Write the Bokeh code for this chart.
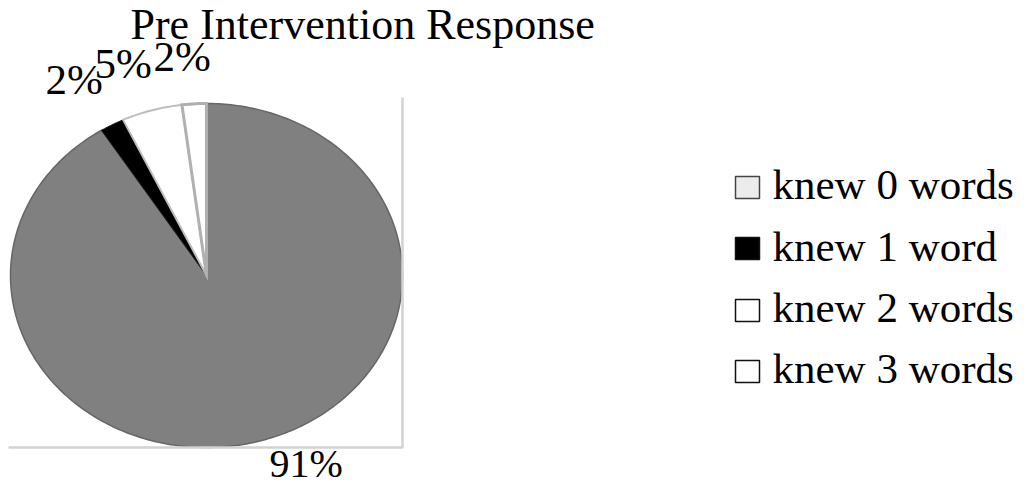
import numpy as np
from bokeh.plotting import figure
from bokeh.models import Range1d, ColumnDataSource
from bokeh.core.properties import value
from bokeh.embed import file_html
from bokeh.resources import INLINE

# ---- data ----
title_text = "Pre Intervention Response"
categories = ["knew 0 words", "knew 1 word", "knew 2 words", "knew 3 words"]
percentages = [91, 2, 5, 2]

# ---- styles / layout ----
slice_fill = ["#808080", "#000000", "#ffffff", "#ffffff"]
slice_line = ["#666666", "#1a1a1a", "#bdbdbd", "#b0b0b0"]
slice_lw = [1.5, 1.0, 2.0, 3.0]
swatch_fill = ["#ececec", "#000000", "#ffffff", "#ffffff"]
swatch_line = ["#444444", "#111111", "#111111", "#111111"]

DY = -14  # rendered text sits lower than its anchor; compensate
# label anchors (left, baseline) in picture pixels
label_pos = [(269, 477), (45, 93), (94, 77), (153, 70)]
label_size = ["40px", "43px", "43px", "43px"]
legend_rows = [187, 248, 310, 371]
legend_base = [198, 260, 321, 382]

FONT = "Liberation Serif"

W, H = 1016, 488
p = figure(width=W, height=H, x_range=Range1d(0, W), y_range=Range1d(H, 0),
           output_backend="svg", toolbar_location=None, min_border=0,
           x_axis_type=None, y_axis_type=None)
p.grid.visible = False
p.outline_line_color = None
p.background_fill_color = "white"
p.border_fill_color = "white"

# ---- pie (slightly elliptical, clockwise from 12 o'clock) ----
cx, cy, rx, ry = 206, 275, 196, 172
total = float(sum(percentages))
bounds = np.concatenate([[0.0], np.cumsum(percentages)]) / total * 2 * np.pi
xs, ys = [], []
for i in range(len(percentages)):
    t = np.linspace(bounds[i], bounds[i + 1], max(4, int(percentages[i] * 4)))
    xs.append([cx] + list(cx + rx * np.sin(t)))
    ys.append([cy] + list(cy - ry * np.cos(t)))
src = ColumnDataSource(dict(xs=xs, ys=ys, fill=slice_fill, line=slice_line, lw=slice_lw,
                            cat=categories))
p.patches("xs", "ys", source=src, fill_color="fill", line_color="line", line_width="lw",
          line_join="miter")

# frame lines of the scanned chart area
p.line([8, 402, 402], [447, 447, 97], line_color="#d2d2d2", line_width=2.5)

# ---- percentage labels ----
lab = ColumnDataSource(dict(x=[a[0] for a in label_pos], y=[a[1] + DY for a in label_pos],
                            t=[f"{v}%" for v in percentages], fs=label_size))
p.text("x", "y", text="t", source=lab, text_font=value(FONT), text_font_size="fs",
       text_color="black", text_baseline="alphabetic", text_align="left")

# ---- title ----
p.text([130], [38 + DY], text=[title_text], text_font=value(FONT), text_font_size="44px",
       text_color="black", text_baseline="alphabetic", text_align="left")

# ---- legend ----
p.rect([747] * 4, legend_rows, width=24, height=22, fill_color=swatch_fill,
       line_color=swatch_line, line_width=1.5)
p.text([772] * 4, [b + DY for b in legend_base], text=categories, text_font=value(FONT),
       text_font_size="43px", text_color="black", text_baseline="alphabetic",
       text_align="left")

open("out.html", "w").write(file_html(p, INLINE))
